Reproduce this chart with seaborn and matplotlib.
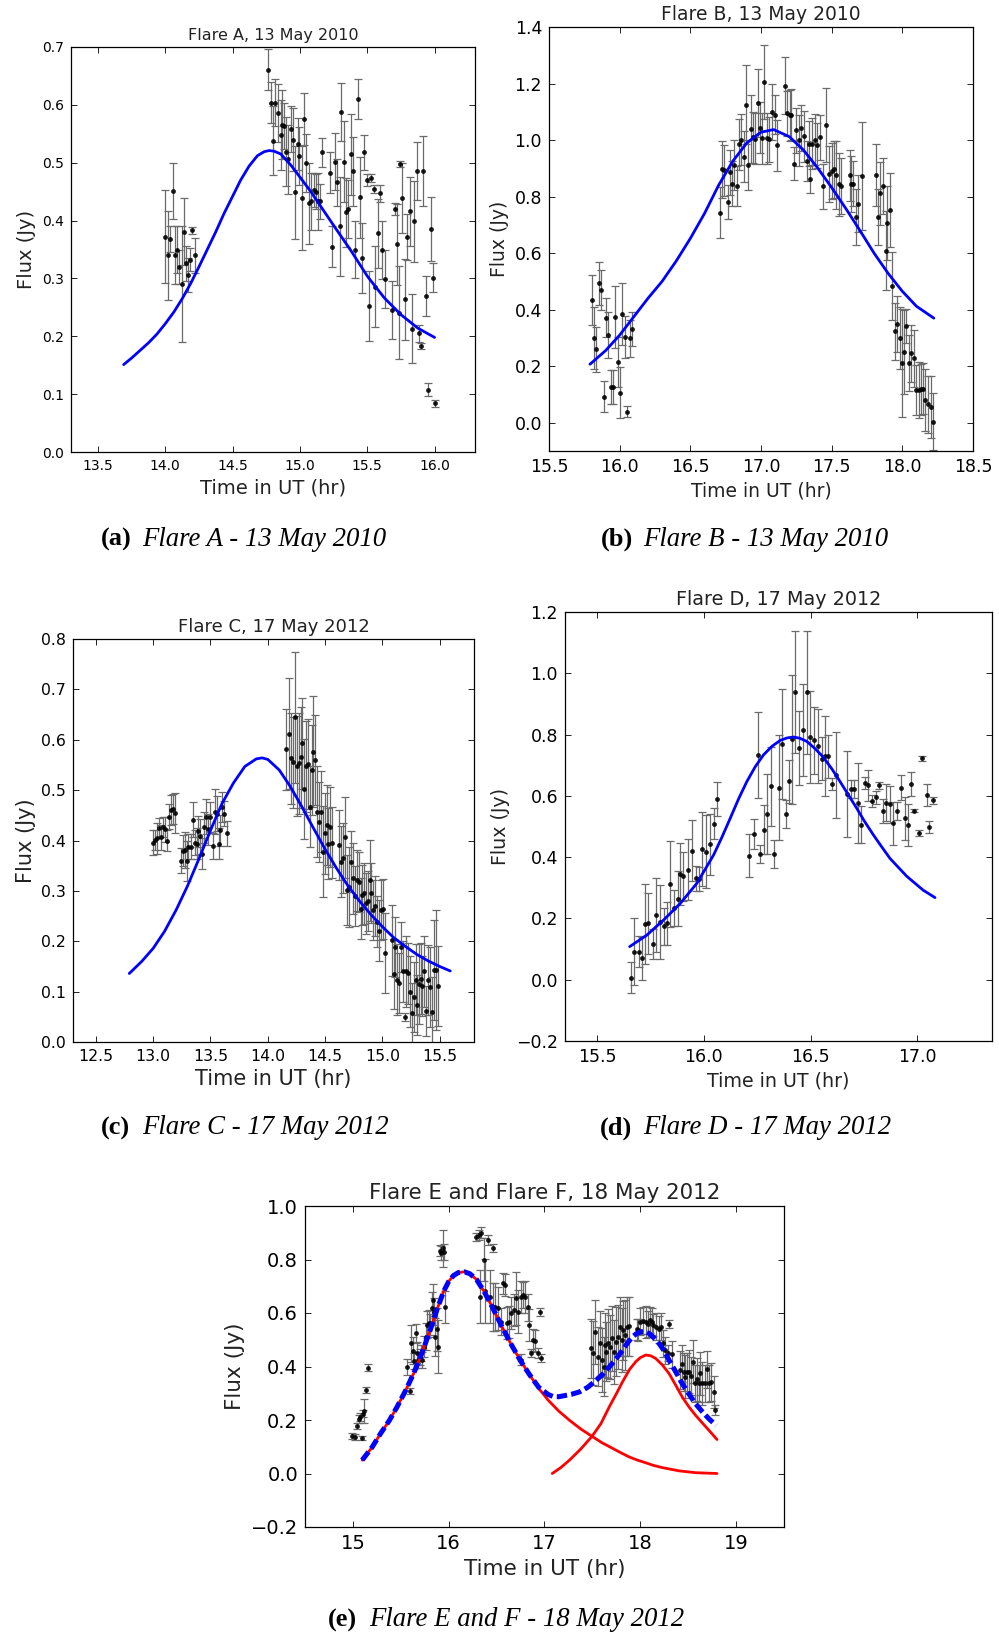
import matplotlib
matplotlib.use("Agg")
import matplotlib.pyplot as plt
import seaborn as sns

# ---------------- data: Flare A ----------------
a_time = [14.001, 14.019, 14.036, 14.054, 14.071, 14.084, 14.104, 14.121, 14.136, 14.151, 14.171, 14.183, 14.200, 14.221,
          14.766, 14.782, 14.799, 14.817, 14.834, 14.856, 14.865, 14.882, 14.897, 14.914, 14.931, 14.948, 14.966, 14.983,
          14.996, 15.013, 15.031, 15.048, 15.066, 15.083, 15.101, 15.116, 15.131, 15.151, 15.166, 15.220, 15.240, 15.260,
          15.277, 15.294, 15.305, 15.324, 15.341, 15.359, 15.376, 15.394, 15.411, 15.431, 15.444, 15.461, 15.478, 15.496,
          15.513, 15.530, 15.548, 15.560, 15.577, 15.595, 15.613, 15.632, 15.684, 15.703, 15.720, 15.735, 15.742, 15.761,
          15.778, 15.794, 15.816, 15.833, 15.850, 15.866, 15.883, 15.900, 15.917, 15.937, 15.954, 15.974, 15.991, 16.000]
a_flux = [0.372, 0.340, 0.368, 0.451, 0.340, 0.350, 0.320, 0.290, 0.381, 0.326, 0.306, 0.332, 0.383, 0.340,
          0.661, 0.604, 0.538, 0.604, 0.586, 0.548, 0.566, 0.564, 0.519, 0.506, 0.558, 0.540, 0.449, 0.533,
          0.512, 0.439, 0.575, 0.499, 0.430, 0.433, 0.453, 0.450, 0.433, 0.433, 0.518, 0.483, 0.355, 0.502,
          0.466, 0.390, 0.587, 0.502, 0.414, 0.420, 0.515, 0.485, 0.350, 0.610, 0.440, 0.335, 0.518, 0.470,
          0.252, 0.474, 0.454, 0.286, 0.378, 0.447, 0.349, 0.299, 0.245, 0.420, 0.359, 0.241, 0.498, 0.439,
          0.264, 0.372, 0.416, 0.213, 0.399, 0.486, 0.205, 0.183, 0.486, 0.270, 0.108, 0.385, 0.301, 0.084]
a_err = [0.080, 0.077, 0.022, 0.049, 0.050, 0.040, 0.030, 0.100, 0.058, 0.030, 0.030, 0.020, 0.006, 0.030,
         0.035, 0.035, 0.060, 0.040, 0.050, 0.060, 0.060, 0.040, 0.060, 0.060, 0.040, 0.055, 0.080, 0.045,
         0.050, 0.090, 0.045, 0.050, 0.070, 0.050, 0.030, 0.030, 0.050, 0.030, 0.025, 0.035, 0.035, 0.050,
         0.040, 0.085, 0.050, 0.070, 0.060, 0.050, 0.070, 0.060, 0.050, 0.035, 0.070, 0.060, 0.030, 0.010,
         0.060, 0.007, 0.007, 0.070, 0.060, 0.015, 0.050, 0.050, 0.050, 0.010, 0.070, 0.080, 0.005, 0.060,
         0.070, 0.040, 0.060, 0.060, 0.070, 0.050, 0.015, 0.005, 0.060, 0.035, 0.012, 0.055, 0.025, 0.006]
a_fit_time = [13.691, 13.753, 13.815, 13.877, 13.939, 14.001, 14.064, 14.126, 14.188, 14.250, 14.312,
              14.374, 14.436, 14.498, 14.560, 14.622, 14.684, 14.734, 14.771, 14.808, 14.858, 14.932,
              15.007, 15.081, 15.156, 15.255, 15.379, 15.503, 15.628, 15.752, 15.876, 16.000]
a_fit_flux = [0.151, 0.163, 0.176, 0.189, 0.204, 0.222, 0.242, 0.265, 0.291, 0.320, 0.350,
              0.380, 0.412, 0.441, 0.470, 0.494, 0.512, 0.519, 0.521, 0.520, 0.515, 0.496,
              0.473, 0.450, 0.424, 0.390, 0.348, 0.303, 0.266, 0.237, 0.214, 0.198]
a_xticks = [13.5, 14.0, 14.5, 15.0, 15.5, 16.0]
a_yticks = [0.0, 0.1, 0.2, 0.3, 0.4, 0.5, 0.6, 0.7]

# ---------------- data: Flare B ----------------
b_time = [15.804, 15.820, 15.832, 15.851, 15.868, 15.886, 15.903, 15.920, 15.937, 15.950, 15.970, 15.986, 16.002,
          16.020, 16.037, 16.054, 16.070, 16.085,
          16.709, 16.723, 16.740, 16.766, 16.780, 16.792, 16.808, 16.827, 16.844, 16.857, 16.879, 16.897, 16.909,
          16.926, 16.940, 16.957, 16.978, 16.992, 17.004, 17.023, 17.039, 17.060, 17.077, 17.096, 17.114, 17.169,
          17.187, 17.204, 17.215, 17.230, 17.251, 17.270, 17.286, 17.303, 17.322, 17.341, 17.350, 17.364, 17.379,
          17.397, 17.416, 17.437, 17.463, 17.480, 17.499, 17.515, 17.534, 17.550, 17.565, 17.628, 17.640, 17.652,
          17.670, 17.687, 17.713, 17.812, 17.828, 17.845, 17.864, 17.887, 17.894, 17.911, 17.930, 17.949, 17.965,
          17.982, 18.001, 18.013, 18.029, 18.048, 18.064, 18.085, 18.100, 18.116, 18.130, 18.147, 18.163, 18.182,
          18.201, 18.218]
b_flux = [0.434, 0.299, 0.260, 0.493, 0.470, 0.092, 0.372, 0.310, 0.128, 0.128, 0.375, 0.215, 0.106,
          0.384, 0.304, 0.039, 0.299, 0.331,
          0.743, 0.896, 0.893, 0.780, 0.886, 0.845, 0.912, 0.837, 0.985, 1.002, 0.941, 1.125, 0.912,
          1.039, 1.010, 1.005, 1.130, 1.043, 1.006, 1.205, 1.006, 1.003, 1.099, 1.090, 0.981, 1.193,
          1.095, 1.087, 1.090, 0.917, 1.035, 1.000, 1.043, 1.013, 0.925, 0.987, 0.861, 0.987, 1.001,
          0.981, 1.010, 0.837, 1.054, 0.880, 0.890, 0.896, 0.876, 0.843, 0.837, 0.876, 0.845, 0.845,
          0.728, 0.775, 0.873, 0.876, 0.728, 0.811, 0.837, 0.608, 0.707, 0.753, 0.483, 0.323, 0.349,
          0.301, 0.211, 0.250, 0.341, 0.212, 0.245, 0.228, 0.116, 0.116, 0.118, 0.120, 0.079, 0.065,
          0.057, 0.004]
b_err = [0.090, 0.110, 0.080, 0.075, 0.070, 0.055, 0.070, 0.080, 0.060, 0.060, 0.110, 0.090, 0.090,
         0.110, 0.075, 0.020, 0.065, 0.060,
         0.09, 0.10, 0.09, 0.06, 0.08, 0.08, 0.09, 0.07, 0.09, 0.09, 0.09, 0.14, 0.09,
         0.12, 0.09, 0.09, 0.12, 0.09, 0.09, 0.13, 0.09, 0.08, 0.10, 0.07, 0.09, 0.10,
         0.08, 0.09, 0.09, 0.06, 0.08, 0.09, 0.08, 0.09, 0.07, 0.08, 0.05, 0.09, 0.09,
         0.08, 0.08, 0.08, 0.13, 0.10, 0.10, 0.10, 0.12, 0.11, 0.10, 0.09, 0.10, 0.08,
         0.10, 0.10, 0.19, 0.11, 0.10, 0.11, 0.10, 0.14, 0.13, 0.13, 0.12, 0.10, 0.10,
         0.11, 0.19, 0.15, 0.06, 0.10, 0.10, 0.10, 0.09, 0.10, 0.09, 0.09, 0.11, 0.10,
         0.11, 0.10]
b_fit_time = [15.790, 15.900, 16.000, 16.100, 16.200, 16.300, 16.400, 16.500, 16.600, 16.700, 16.800,
              16.900, 17.000, 17.090, 17.200, 17.300, 17.400, 17.500, 17.600, 17.700, 17.800, 17.900,
              18.000, 18.100, 18.223]
b_fit_flux = [0.207, 0.255, 0.310, 0.375, 0.440, 0.500, 0.572, 0.652, 0.740, 0.840, 0.925,
              0.990, 1.028, 1.037, 1.012, 0.965, 0.902, 0.832, 0.758, 0.680, 0.600, 0.528,
              0.465, 0.412, 0.370]
b_xticks = [15.5, 16.0, 16.5, 17.0, 17.5, 18.0, 18.5]
b_yticks = [0.0, 0.2, 0.4, 0.6, 0.8, 1.0, 1.2, 1.4]

# ---------------- data: Flare C ----------------
c_time = [13.001, 13.013, 13.030, 13.048, 13.071, 13.088, 13.103, 13.118, 13.138, 13.152, 13.170, 13.187,
          13.240, 13.257, 13.278, 13.292, 13.307, 13.327, 13.345, 13.365, 13.380, 13.394, 13.409, 13.426,
          13.444, 13.461, 13.479, 13.496, 13.520, 13.537, 13.554, 13.572, 13.584, 13.598, 13.619, 13.642,
          14.160, 14.181, 14.201, 14.219, 14.236, 14.254, 14.271, 14.289, 14.303, 14.318, 14.332, 14.347,
          14.370, 14.388, 14.399, 14.414, 14.434, 14.449, 14.463, 14.481, 14.498, 14.516, 14.530, 14.545,
          14.562, 14.618, 14.638, 14.656, 14.673, 14.691, 14.708, 14.726, 14.743, 14.761, 14.778, 14.795,
          14.810, 14.825, 14.842, 14.860, 14.877, 14.889, 14.903, 14.918, 14.935, 14.953, 14.970, 14.988,
          15.005, 15.023, 15.084, 15.098, 15.113, 15.127, 15.145, 15.162, 15.180, 15.194, 15.209, 15.227,
          15.244, 15.262, 15.276, 15.291, 15.302, 15.320, 15.337, 15.349, 15.361, 15.378, 15.396, 15.413,
          15.431, 15.448, 15.466, 15.483]
c_flux = [0.396, 0.401, 0.404, 0.424, 0.406, 0.426, 0.422, 0.400, 0.447, 0.461, 0.462, 0.454,
          0.360, 0.380, 0.381, 0.360, 0.388, 0.388, 0.441, 0.396, 0.394, 0.418, 0.408, 0.374,
          0.426, 0.447, 0.422, 0.447, 0.389, 0.457, 0.453, 0.394, 0.420, 0.467, 0.453, 0.414,
          0.581, 0.612, 0.563, 0.555, 0.645, 0.548, 0.553, 0.565, 0.593, 0.502, 0.547, 0.552,
          0.467, 0.540, 0.576, 0.560, 0.457, 0.437, 0.457, 0.378, 0.414, 0.431, 0.394, 0.427,
          0.396, 0.391, 0.358, 0.365, 0.406, 0.302, 0.308, 0.358, 0.325, 0.290, 0.321, 0.318,
          0.265, 0.292, 0.295, 0.275, 0.280, 0.321, 0.296, 0.262, 0.270, 0.239, 0.221, 0.262,
          0.264, 0.177, 0.202, 0.135, 0.189, 0.124, 0.117, 0.188, 0.140, 0.049, 0.140, 0.136,
          0.100, 0.057, 0.089, 0.124, 0.073, 0.115, 0.126, 0.111, 0.140, 0.062, 0.123, 0.109,
          0.059, 0.143, 0.143, 0.111]
c_err = [0.025, 0.020, 0.030, 0.020, 0.025, 0.020, 0.025, 0.020, 0.025, 0.030, 0.030, 0.040,
         0.025, 0.030, 0.035, 0.040, 0.025, 0.025, 0.035, 0.025, 0.030, 0.030, 0.035, 0.030,
         0.030, 0.035, 0.030, 0.030, 0.025, 0.045, 0.035, 0.030, 0.030, 0.030, 0.025, 0.025,
         0.08, 0.11, 0.09, 0.09, 0.13, 0.10, 0.10, 0.10, 0.09, 0.10, 0.09, 0.09,
         0.08, 0.09, 0.11, 0.09, 0.09, 0.08, 0.08, 0.09, 0.08, 0.08, 0.07, 0.08,
         0.07, 0.07, 0.07, 0.07, 0.08, 0.07, 0.08, 0.06, 0.07, 0.06, 0.06, 0.06,
         0.06, 0.06, 0.06, 0.06, 0.06, 0.08, 0.06, 0.06, 0.06, 0.05, 0.06, 0.06,
         0.06, 0.08, 0.07, 0.07, 0.06, 0.07, 0.06, 0.05, 0.06, 0.008, 0.07, 0.06,
         0.07, 0.06, 0.07, 0.07, 0.06, 0.08, 0.07, 0.06, 0.07, 0.05, 0.07, 0.08,
         0.07, 0.10, 0.12, 0.08]
c_fit_time = [12.791, 12.900, 13.000, 13.100, 13.200, 13.300, 13.400, 13.500, 13.600, 13.700, 13.800,
              13.900, 13.950, 14.000, 14.100, 14.200, 14.300, 14.400, 14.500, 14.600, 14.700, 14.800,
              14.900, 15.000, 15.100, 15.200, 15.300, 15.400, 15.500, 15.593]
c_fit_flux = [0.136, 0.160, 0.186, 0.220, 0.262, 0.310, 0.364, 0.420, 0.473, 0.514, 0.547,
              0.562, 0.564, 0.561, 0.540, 0.506, 0.466, 0.424, 0.383, 0.345, 0.310, 0.280,
              0.253, 0.229, 0.207, 0.190, 0.174, 0.161, 0.150, 0.141]
c_xticks = [12.5, 13.0, 13.5, 14.0, 14.5, 15.0, 15.5]
c_yticks = [0.0, 0.1, 0.2, 0.3, 0.4, 0.5, 0.6, 0.7, 0.8]

# ---------------- data: Flare D ----------------
d_time = [15.657, 15.675, 15.695, 15.712, 15.726, 15.739, 15.760, 15.776, 15.796, 15.812,
          15.827, 15.843, 15.859, 15.877, 15.890, 15.905, 15.926, 15.944, 15.963, 15.976,
          15.994, 16.011, 16.030, 16.049, 16.061, 16.214, 16.233, 16.252, 16.264, 16.283,
          16.298, 16.316, 16.330, 16.350, 16.365, 16.383, 16.401, 16.414, 16.429, 16.447,
          16.467, 16.485, 16.498, 16.517, 16.534, 16.553, 16.568, 16.584, 16.599, 16.618,
          16.670, 16.688, 16.705, 16.723, 16.735, 16.755, 16.771, 16.790, 16.807, 16.822,
          16.841, 16.854, 16.872, 16.888, 16.903, 16.922, 16.942, 16.958, 16.970, 16.985,
          17.006, 17.023, 17.044, 17.055, 17.072]
d_flux = [0.007, 0.092, 0.092, 0.070, 0.181, 0.184, 0.116, 0.212, 0.188, 0.174,
          0.184, 0.312, 0.234, 0.265, 0.345, 0.337, 0.359, 0.421, 0.331, 0.328,
          0.426, 0.418, 0.442, 0.509, 0.589, 0.405, 0.476, 0.734, 0.410, 0.489,
          0.541, 0.631, 0.410, 0.627, 0.769, 0.541, 0.648, 0.785, 0.939, 0.756,
          0.814, 0.938, 0.792, 0.781, 0.763, 0.721, 0.729, 0.729, 0.638, 0.669,
          0.606, 0.622, 0.622, 0.576, 0.506, 0.641, 0.634, 0.584, 0.595, 0.634,
          0.551, 0.578, 0.573, 0.511, 0.551, 0.627, 0.527, 0.505, 0.639, 0.551,
          0.480, 0.723, 0.603, 0.498, 0.585]
d_err = [0.050, 0.110, 0.050, 0.070, 0.130, 0.100, 0.050, 0.120, 0.120, 0.060,
         0.070, 0.140, 0.060, 0.090, 0.100, 0.080, 0.100, 0.100, 0.040, 0.040,
         0.120, 0.120, 0.100, 0.050, 0.055, 0.070, 0.050, 0.140, 0.030, 0.080,
         0.130, 0.130, 0.045, 0.170, 0.180, 0.045, 0.070, 0.210, 0.200, 0.120,
         0.150, 0.200, 0.150, 0.110, 0.120, 0.070, 0.130, 0.070, 0.020, 0.140,
         0.140, 0.030, 0.030, 0.130, 0.060, 0.020, 0.050, 0.020, 0.020, 0.010,
         0.040, 0.060, 0.060, 0.070, 0.030, 0.040, 0.070, 0.070, 0.040, 0.005,
         0.010, 0.008, 0.035, 0.020, 0.010]
d_fit_time = [15.653, 15.734, 15.812, 15.890, 15.968, 16.046, 16.085, 16.124, 16.163, 16.202, 16.241,
              16.280, 16.320, 16.358, 16.390, 16.420, 16.450, 16.482, 16.520, 16.560, 16.600, 16.638,
              16.680, 16.716, 16.750, 16.794, 16.830, 16.872, 16.950, 17.028, 17.083]
d_fit_flux = [0.108, 0.146, 0.195, 0.249, 0.315, 0.407, 0.465, 0.527, 0.590, 0.647, 0.695,
              0.734, 0.762, 0.781, 0.789, 0.792, 0.788, 0.778, 0.755, 0.726, 0.688, 0.647,
              0.600, 0.560, 0.520, 0.473, 0.437, 0.396, 0.338, 0.292, 0.268]
d_xticks = [15.5, 16.0, 16.5, 17.0]
d_yticks = [-0.2, 0.0, 0.2, 0.4, 0.6, 0.8, 1.0, 1.2]

# ---------------- data: Flare E and F ----------------
e_time = [14.993, 15.018, 15.038, 15.059, 15.073, 15.090, 15.101, 15.115, 15.135, 15.156,
          15.568, 15.592, 15.603, 15.627, 15.641, 15.655, 15.668, 15.682, 15.696, 15.710,
          15.724, 15.738, 15.758, 15.772, 15.790, 15.807, 15.824, 15.835, 15.848, 15.862,
          15.876, 15.893, 15.911, 15.924, 15.938, 15.952, 15.966,
          16.286, 16.318, 16.341, 16.373, 16.410, 16.459, 16.325, 16.384, 16.431, 16.459,
          16.482, 16.510, 16.541, 16.569, 16.588, 16.608, 16.627, 16.647, 16.678, 16.706,
          16.725, 16.757, 16.757, 16.773, 16.796, 16.824, 16.843, 16.863, 16.882, 16.902,
          16.929, 16.953, 16.960,
          17.490, 17.510, 17.529, 17.557, 17.580, 17.596, 17.620, 17.627, 17.647, 17.667,
          17.686, 17.706, 17.725, 17.745, 17.765, 17.784, 17.804, 17.824, 17.843, 17.863,
          17.882, 17.961, 17.980, 18.000, 18.027, 18.059, 18.078, 18.098, 18.118, 18.137,
          18.169, 18.196, 18.216, 18.235, 18.255, 18.286, 18.302, 18.333, 18.412, 18.431,
          18.451, 18.471, 18.490, 18.510, 18.529, 18.549, 18.569, 18.588, 18.608, 18.627,
          18.647, 18.678, 18.694, 18.718, 18.733, 18.765, 18.784]
e_flux = [0.141, 0.137, 0.177, 0.202, 0.212, 0.133, 0.224, 0.234, 0.313, 0.396,
          0.399, 0.308, 0.486, 0.459, 0.421, 0.524, 0.451, 0.424, 0.436, 0.449,
          0.424, 0.474, 0.511, 0.557, 0.561, 0.558, 0.617, 0.648, 0.605, 0.511,
          0.539, 0.474, 0.833, 0.825, 0.842, 0.829, 0.623,
          0.885, 0.892, 0.900, 0.800, 0.873, 0.842, 0.661, 0.683, 0.661, 0.623,
          0.623, 0.617, 0.567, 0.711, 0.705, 0.561, 0.567, 0.599, 0.611, 0.655,
          0.605, 0.661, 0.426, 0.667, 0.661, 0.621, 0.555, 0.451, 0.499, 0.496,
          0.451, 0.605, 0.430,
          0.468, 0.449, 0.530, 0.436, 0.486, 0.424, 0.399, 0.480, 0.455, 0.486,
          0.474, 0.505, 0.455, 0.493, 0.511, 0.549, 0.499, 0.536, 0.517, 0.549,
          0.551, 0.539, 0.536, 0.567, 0.571, 0.567, 0.559, 0.574, 0.567, 0.555,
          0.549, 0.539, 0.549, 0.486, 0.461, 0.451, 0.559, 0.446, 0.387, 0.411,
          0.380, 0.362, 0.380, 0.380, 0.364, 0.418, 0.337, 0.352, 0.337, 0.374,
          0.337, 0.337, 0.389, 0.337, 0.342, 0.305, 0.237]
e_err = [0.012, 0.010, 0.012, 0.015, 0.015, 0.008, 0.012, 0.045, 0.012, 0.012,
         0.030, 0.010, 0.070, 0.050, 0.030, 0.035, 0.040, 0.030, 0.030, 0.030,
         0.030, 0.040, 0.050, 0.050, 0.050, 0.040, 0.060, 0.060, 0.050, 0.070,
         0.080, 0.100, 0.020, 0.025, 0.070, 0.030, 0.060,
         0.015, 0.020, 0.020, 0.080, 0.020, 0.015, 0.100, 0.120, 0.100, 0.090,
         0.090, 0.080, 0.050, 0.040, 0.040, 0.060, 0.060, 0.060, 0.060, 0.100,
         0.080, 0.060, 0.020, 0.050, 0.060, 0.050, 0.060, 0.015, 0.040, 0.040,
         0.020, 0.015, 0.015,
         0.11, 0.12, 0.12, 0.11, 0.12, 0.12, 0.11, 0.12, 0.11, 0.13,
         0.12, 0.12, 0.12, 0.13, 0.12, 0.11, 0.12, 0.11, 0.13, 0.11,
         0.11, 0.04, 0.04, 0.05, 0.05, 0.06, 0.05, 0.05, 0.05, 0.04,
         0.05, 0.05, 0.05, 0.05, 0.05, 0.03, 0.015, 0.05, 0.07, 0.07,
         0.07, 0.08, 0.07, 0.08, 0.07, 0.08, 0.07, 0.08, 0.07, 0.08,
         0.08, 0.07, 0.07, 0.07, 0.07, 0.06, 0.02]
e_flareE_time = [15.097, 15.200, 15.288, 15.380, 15.461, 15.550, 15.634, 15.720, 15.807, 15.880, 15.946,
                 16.000, 16.050, 16.100, 16.163, 16.220, 16.291, 16.370, 16.451, 16.550, 16.647, 16.745,
                 16.843, 16.940, 17.039, 17.150, 17.261, 17.380, 17.496, 17.600, 17.711, 17.800, 17.884,
                 17.970, 18.057, 18.140, 18.230, 18.403, 18.576, 18.801]
e_flareE_flux = [0.050, 0.098, 0.149, 0.198, 0.249, 0.310, 0.374, 0.450, 0.536, 0.615, 0.680,
                 0.718, 0.740, 0.751, 0.754, 0.747, 0.725, 0.680, 0.625, 0.553, 0.486, 0.424,
                 0.370, 0.318, 0.274, 0.233, 0.199, 0.166, 0.139, 0.115, 0.094, 0.077, 0.062,
                 0.050, 0.040, 0.030, 0.022, 0.010, 0.003, 0.000]
e_flareF_time = [17.081, 17.170, 17.261, 17.380, 17.496, 17.590, 17.676, 17.750, 17.815, 17.890, 17.953,
                 18.000, 18.057, 18.110, 18.161, 18.230, 18.300, 18.370, 18.438, 18.510, 18.576, 18.650,
                 18.715, 18.801]
e_flareF_flux = [0.000, 0.022, 0.050, 0.092, 0.139, 0.187, 0.249, 0.298, 0.343, 0.390, 0.418,
                 0.433, 0.443, 0.440, 0.430, 0.406, 0.374, 0.330, 0.286, 0.248, 0.218, 0.188,
                 0.162, 0.127]
e_total_time = [15.097, 15.200, 15.288, 15.380, 15.461, 15.550, 15.634, 15.720, 15.807, 15.880, 15.946,
                16.000, 16.050, 16.100, 16.163, 16.220, 16.291, 16.370, 16.451, 16.550, 16.647, 16.745,
                16.843, 16.940, 17.040, 17.088, 17.150, 17.192, 17.280, 17.365, 17.450, 17.538, 17.610,
                17.676, 17.750, 17.815, 17.870, 17.919, 17.960, 18.006, 18.050, 18.092, 18.140, 18.196,
                18.250, 18.300, 18.370, 18.438, 18.510, 18.576, 18.650, 18.715, 18.791]
e_total_flux = [0.050, 0.098, 0.149, 0.198, 0.249, 0.310, 0.374, 0.450, 0.536, 0.615, 0.680,
                0.718, 0.740, 0.751, 0.754, 0.747, 0.725, 0.680, 0.625, 0.553, 0.486, 0.424,
                0.370, 0.322, 0.295, 0.288, 0.287, 0.290, 0.296, 0.305, 0.322, 0.348, 0.372,
                0.398, 0.430, 0.461, 0.490, 0.511, 0.523, 0.530, 0.530, 0.524, 0.508, 0.486,
                0.458, 0.424, 0.380, 0.336, 0.296, 0.261, 0.230, 0.205, 0.180]
e_xticks = [15, 16, 17, 18, 19]
e_yticks = [-0.2, 0.0, 0.2, 0.4, 0.6, 0.8, 1.0]

titles = ["Flare A, 13 May 2010", "Flare B, 13 May 2010", "Flare C, 17 May 2012",
          "Flare D, 17 May 2012", "Flare E and Flare F, 18 May 2012"]
cap_tags = ["(a)", "(b)", "(c)", "(d)", "(e)"]
cap_texts = ["Flare A - 13 May 2010", "Flare B - 13 May 2010", "Flare C - 17 May 2012",
             "Flare D - 17 May 2012", "Flare E and F - 18 May 2012"]

# ---------------- style ----------------
sns.set_theme(style="ticks")
plt.rcParams.update({
    "font.family": ["DejaVu Sans"],
    "xtick.direction": "in", "ytick.direction": "in",
    "xtick.top": True, "ytick.right": True,
    "xtick.major.size": 4, "ytick.major.size": 4,
    "xtick.major.width": 0.6, "ytick.major.width": 0.6,
    "axes.linewidth": 0.9, "axes.edgecolor": "black",
    "xtick.color": "black", "ytick.color": "black",
    "axes.labelcolor": "#222222", "text.color": "#222222",
    "lines.scale_dashes": False,
    "lines.solid_capstyle": "round",
})

W, H = 999.0, 1634.0
fig = plt.figure(figsize=(W / 100, H / 100), dpi=100)


def rect(left, top, right, bottom):
    return [left / W, 1 - bottom / H, (right - left) / W, (bottom - top) / H]


def panel(r, t, f, e, xlim, ylim, xticks, yticks, title, fs_tick, fs_lab, fs_title):
    ax = fig.add_axes(r)
    ax.errorbar(t, f, yerr=e, fmt="none", ecolor="#6b6b6b", elinewidth=0.9,
                capsize=2.6, capthick=0.9, zorder=2)
    sns.scatterplot(x=t, y=f, ax=ax, color="black", s=12, linewidth=0, alpha=0.9, zorder=3)
    ax.set_xlim(*xlim)
    ax.set_ylim(*ylim)
    ax.set_xticks(xticks)
    ax.set_yticks(yticks)
    ax.tick_params(labelsize=fs_tick, pad=5)
    ax.set_xlabel("Time in UT (hr)", fontsize=fs_lab)
    ax.set_ylabel("Flux (Jy)", fontsize=fs_lab)
    ax.set_title(title, fontsize=fs_title, pad=5)
    for s in ax.spines.values():
        s.set_visible(True)
    return ax


def fit(ax, t, f, color, lw=2.0, z=4):
    sns.lineplot(x=t, y=f, ax=ax, color=color, linewidth=lw, sort=False, estimator=None, zorder=z)
    return ax.lines[-1]


axA = panel(rect(71, 47, 475, 452), a_time, a_flux, a_err, (13.3, 16.3), (0.0, 0.7),
            a_xticks, a_yticks, titles[0], 10, 14, 11.5)
fit(axA, a_fit_time, a_fit_flux, "blue")

axB = panel(rect(549, 27, 973, 451), b_time, b_flux, b_err, (15.5, 18.5), (-0.1, 1.4),
            b_xticks, b_yticks, titles[1], 12.5, 13.5, 13.5)
fit(axB, b_fit_time, b_fit_flux, "blue")

axC = panel(rect(73, 639, 474, 1042), c_time, c_flux, c_err, (12.3, 15.8), (0.0, 0.8),
            c_xticks, c_yticks, titles[2], 11.3, 15, 13)
fit(axC, c_fit_time, c_fit_flux, "blue")

axD = panel(rect(565, 612, 992, 1041), d_time, d_flux, d_err, (15.35, 17.35), (-0.2, 1.2),
            d_xticks, d_yticks, titles[3], 12.5, 13.7, 13.8)
fit(axD, d_fit_time, d_fit_flux, "blue")

axE = panel(rect(305, 1206, 784, 1527), e_time, e_flux, e_err, (14.5, 19.5), (-0.2, 1.0),
            e_xticks, e_yticks, titles[4], 14, 15.5, 15.4)
fit(axE, e_flareE_time, e_flareE_flux, "red")
fit(axE, e_flareF_time, e_flareF_flux, "red")
tot = fit(axE, e_total_time, e_total_flux, "blue", lw=3.6, z=5)
tot.set_dashes((7.5, 3.0))
tot.set_dash_capstyle("butt")

for ax in (axA, axB, axC, axD, axE):
    leg = ax.get_legend()
    if leg is not None:
        leg.remove()

# ---------------- captions ----------------
cap_pos = [(101, 142, 539), (601, 643, 539), (101, 142, 1128), (600, 643, 1128), (328, 369, 1620)]
for tag, txt, (xt, xs, yc) in zip(cap_tags, cap_texts, cap_pos):
    fig.text(xt / W, 1 - yc / H, tag, fontsize=19, fontweight="bold", family="Liberation Serif",
             va="center", ha="left", color="black")
    fig.text(xs / W, 1 - yc / H, txt, fontsize=19.3, style="italic", family="Liberation Serif",
             va="center", ha="left", color="black")

fig.savefig("out.png", dpi=100)
